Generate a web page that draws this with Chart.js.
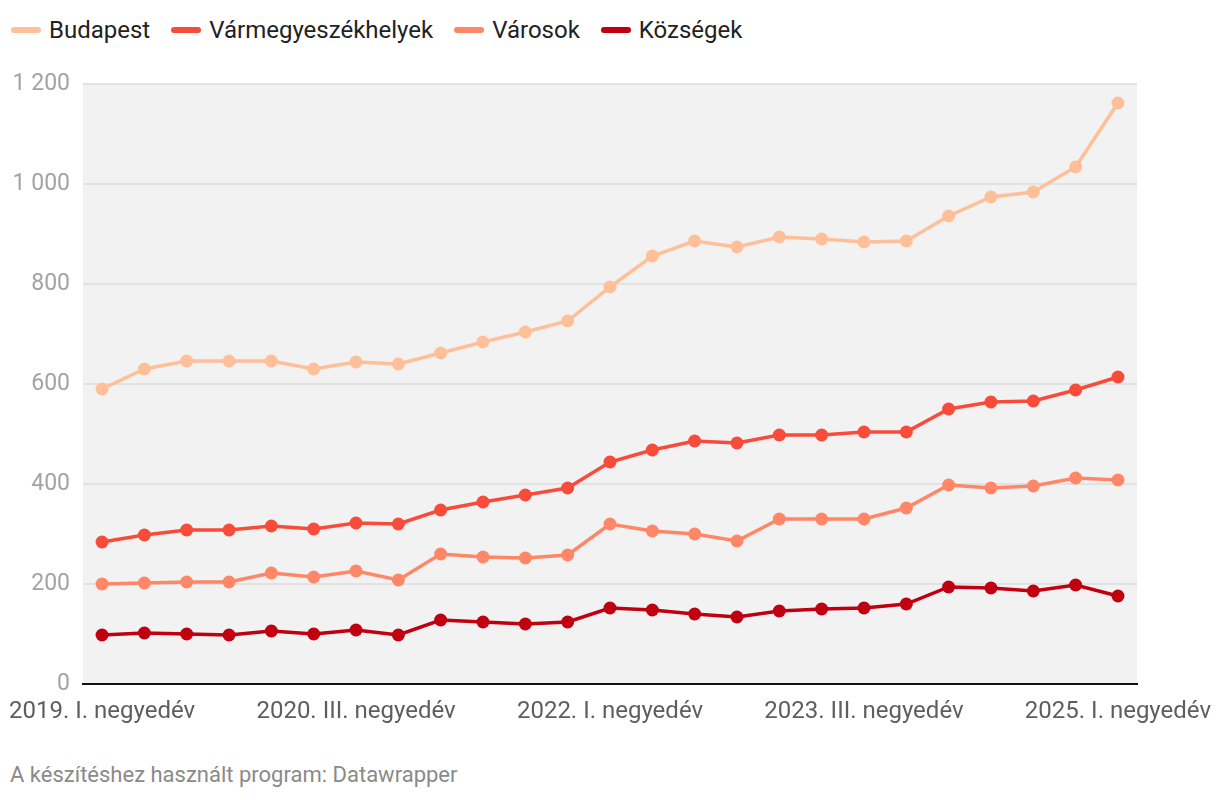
<!DOCTYPE html>
<html>
<head>
<meta charset="utf-8">
<script src="https://cdn.jsdelivr.net/npm/chart.js@4"></script>
<style>
  html, body { margin: 0; padding: 0; background: #fff; width: 1220px; height: 800px; overflow: hidden; font-family: Roboto, "Noto Sans", sans-serif; }
  #legend { position: absolute; left: 11px; top: 15px; display: flex; font-size: 24px; color: #222; line-height: 30px; }
  .item { display: flex; align-items: center; margin-right: 21px; }
  .sw { width: 30px; height: 6px; border-radius: 3px; margin-right: 8px; }
  #wrap { position: absolute; left: 0; top: 0; width: 1220px; height: 740px; }
  #footer { position: absolute; left: 10px; top: 762px; font-size: 22px; color: #8a8a8a; }
</style>
</head>
<body>
<div id="legend"></div>
<div id="wrap"><canvas id="c"></canvas></div>
<div id="footer">A készítéshez használt program: Datawrapper</div>
<script>
const categories = [
  "2019. I. negyedév","2019. II. negyedév","2019. III. negyedév","2019. IV. negyedév",
  "2020. I. negyedév","2020. II. negyedév","2020. III. negyedév","2020. IV. negyedév",
  "2021. I. negyedév","2021. II. negyedév","2021. III. negyedév","2021. IV. negyedév",
  "2022. I. negyedév","2022. II. negyedév","2022. III. negyedév","2022. IV. negyedév",
  "2023. I. negyedév","2023. II. negyedév","2023. III. negyedév","2023. IV. negyedév",
  "2024. I. negyedév","2024. II. negyedév","2024. III. negyedév","2024. IV. negyedév",
  "2025. I. negyedév"
];
const seriesNames = ["Budapest", "Vármegyeszékhelyek", "Városok", "Községek"];
const seriesColors = ["#ffbf99", "#f94b3a", "#ff8767", "#c00010"];
const budapest = [590,630,646,646,646,630,644,640,662,684,704,726,794,856,886,874,894,890,884,886,936,974,984,1034,1162];
const varmegyeszekhelyek = [284,298,308,308,316,310,322,320,348,364,378,392,444,468,486,482,498,498,504,504,550,564,566,588,614];
const varosok = [200,202,204,204,222,214,226,208,260,254,252,258,320,306,300,286,330,330,330,352,398,392,396,412,408];
const kozsegek = [98,102,100,98,106,100,108,98,128,124,120,124,152,148,140,134,146,150,152,160,194,192,186,198,176];
const xTickIndices = [0, 6, 12, 18, 24];
const yTicks = [0, 200, 400, 600, 800, 1000, 1200];

const allSeries = [budapest, varmegyeszekhelyek, varosok, kozsegek];

const legend = document.getElementById('legend');
seriesNames.forEach((n, i) => {
  const d = document.createElement('div'); d.className = 'item';
  const s = document.createElement('div'); s.className = 'sw'; s.style.background = seriesColors[i];
  const t = document.createElement('span'); t.textContent = n;
  d.appendChild(s); d.appendChild(t); legend.appendChild(d);
});

const bgPlugin = {
  id: 'bg',
  beforeDraw(chart) {
    const a = chart.chartArea, ctx = chart.ctx;
    ctx.save(); ctx.fillStyle = '#f2f2f2';
    ctx.fillRect(a.left, a.top, a.right - a.left, a.bottom - a.top);
    ctx.restore();
  }
};

const fmt = v => String(v).replace(/\B(?=(\d{3})+(?!\d))/g, ' ');

new Chart(document.getElementById('c'), {
  type: 'line',
  data: {
    datasets: allSeries.map((arr, i) => ({
      label: seriesNames[i],
      data: arr.map((v, k) => ({ x: k, y: v })),
      borderColor: seriesColors[i],
      backgroundColor: seriesColors[i],
      pointBackgroundColor: seriesColors[i],
      pointBorderWidth: 0,
      pointRadius: 6.5,
      borderWidth: 3.5,
      tension: 0,
      order: i
    })).reverse()
  },
  options: {
    responsive: true,
    maintainAspectRatio: false,
    animation: false,
    layout: { padding: { top: 84, right: 83, bottom: 0, left: 0 } },
    plugins: { legend: { display: false }, tooltip: { enabled: false } },
    scales: {
      x: {
        type: 'linear',
        min: -0.45, max: 24.45,
        afterBuildTicks(s) { s.ticks = xTickIndices.map(v => ({ value: v })); },
        afterFit(s) { s.height = 56; s.paddingLeft = 0; s.paddingRight = 0; },
        grid: { display: false, drawTicks: false },
        border: { display: true, color: '#111', width: 2 },
        ticks: {
          autoSkip: false, maxRotation: 0, padding: 14,
          color: '#5e5e5e', font: { family: 'Roboto', size: 24 },
          callback: v => categories[v]
        }
      },
      y: {
        min: 0, max: 1200,
        afterBuildTicks(s) { s.ticks = yTicks.map(v => ({ value: v })); },
        afterFit(s) { s.width = 83; s.paddingTop = 0; s.paddingBottom = 0; },
        grid: { color: '#e2e2e2', lineWidth: 2, drawTicks: false },
        border: { display: false },
        ticks: {
          padding: 13, color: '#a3a3a3', font: { family: 'Roboto', size: 23 },
          callback: v => fmt(v)
        }
      }
    }
  },
  plugins: [bgPlugin]
});
</script>
</body>
</html>
